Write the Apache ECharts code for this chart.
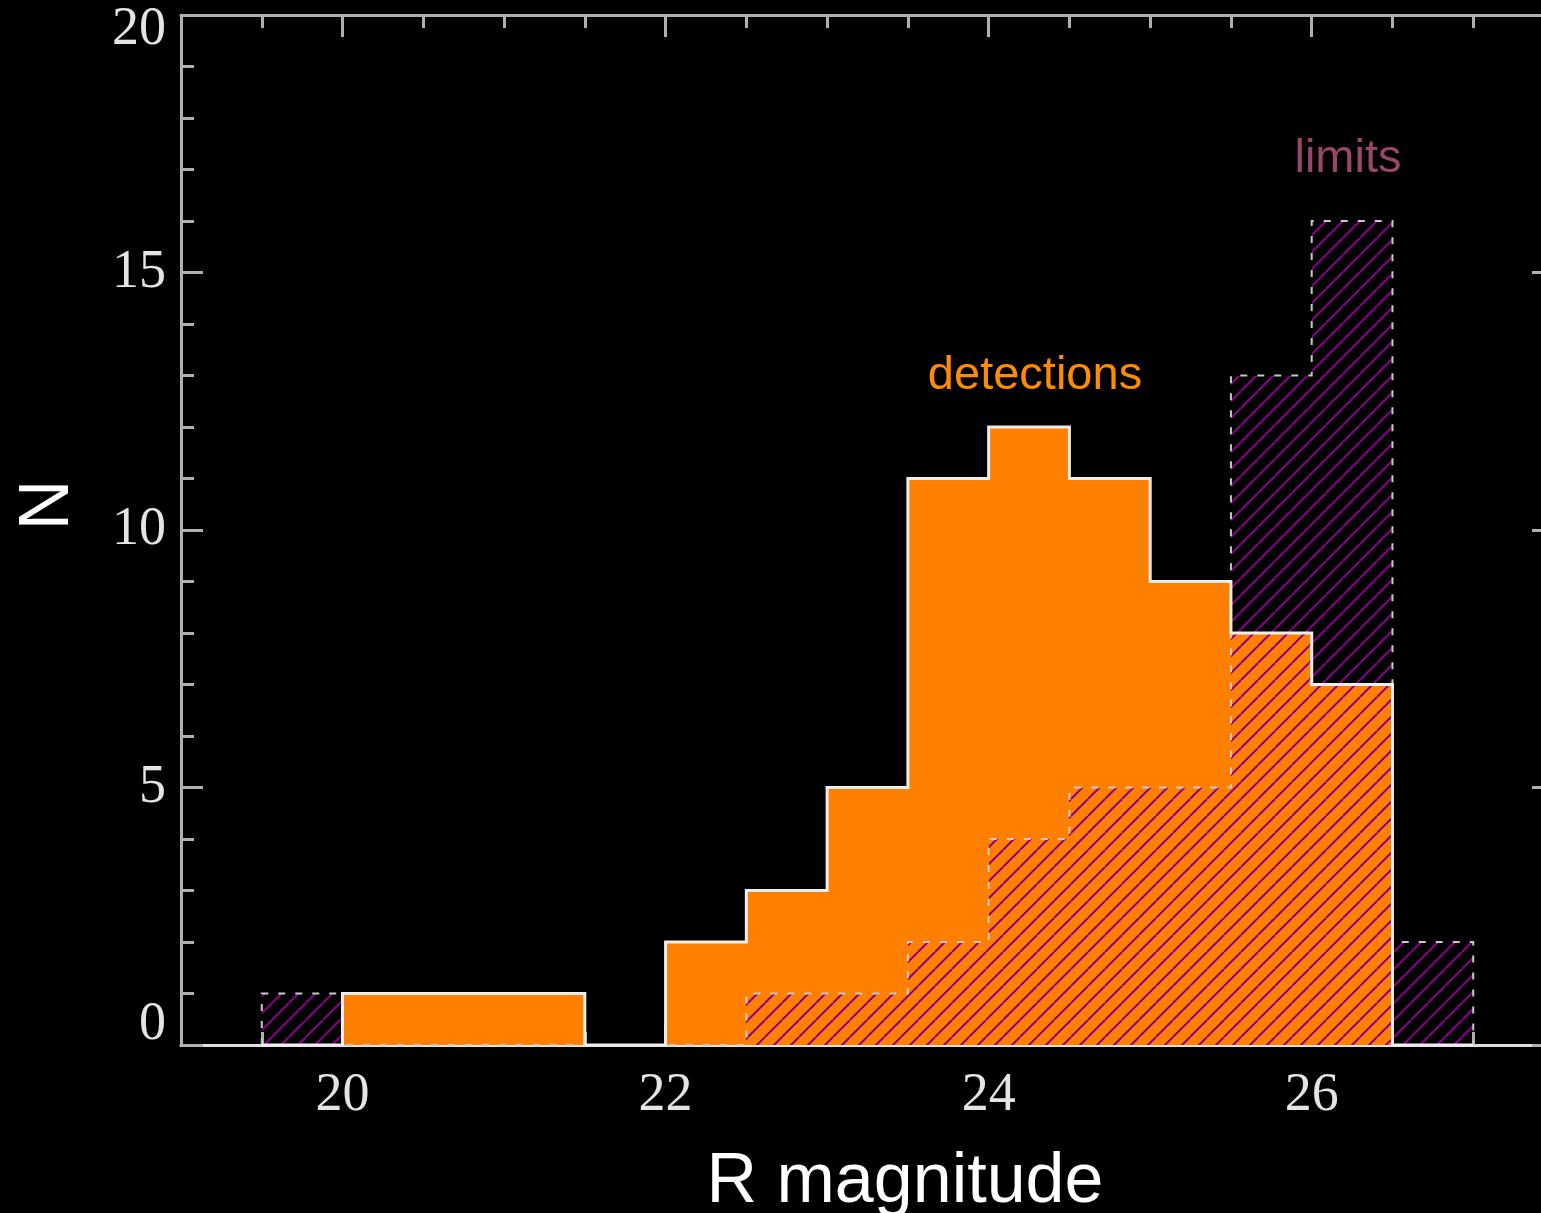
<!DOCTYPE html>
<html>
<head>
<meta charset="utf-8">
<script src="https://cdn.jsdelivr.net/npm/echarts@6/dist/echarts.min.js"></script>
<style>
  html, body { margin: 0; padding: 0; background: #000; }
  #chart { width: 1541px; height: 1213px; }
</style>
</head>
<body>
<div id="chart"></div>
<script>
// Histogram bins: lower edge of each R-magnitude bin, bin width 0.5 mag
const binLow = [19.5, 20.0, 20.5, 21.0, 21.5, 22.0, 22.5, 23.0, 23.5, 24.0, 24.5, 25.0, 25.5, 26.0, 26.5];
const binWidth = 0.5;

// Number of objects per bin
const detections = [0, 1, 1, 1, 0, 2, 3, 5, 11, 12, 11, 9, 8, 7, 0];
const limits     = [1, 0, 0, 0, 0, 0, 1, 1, 2, 4, 5, 5, 13, 16, 2];

// Labelled ticks
const xMajorTicks = [20, 22, 24, 26];
const yMajorTicks = [0, 5, 10, 15, 20];

// Bars as [low edge, high edge, count]
function toBins(counts) {
  return binLow.map((lo, i) => [lo, lo + binWidth, counts[i]]);
}
// Outline as a step line through the bin edges
function toSteps(counts) {
  const pts = [[binLow[0], 0]];
  binLow.forEach((lo, i) => pts.push([lo, counts[i]]));
  pts.push([binLow[binLow.length - 1] + binWidth, 0]);
  return pts;
}

// Diagonal purple hatching tile
const tile = 17;
const hatchCanvas = document.createElement('canvas');
hatchCanvas.width = tile; hatchCanvas.height = tile;
(function () {
  const g = hatchCanvas.getContext('2d');
  g.strokeStyle = '#8b008b';
  g.lineWidth = 2;
  [-1, 0, 1].forEach(k => {
    g.beginPath();
    g.moveTo(k * tile, tile);
    g.lineTo(k * tile + tile, 0);
    g.stroke();
  });
})();
const hatchFill = { type: 'pattern', image: hatchCanvas, repeat: 'repeat' };

function binRenderer(fill) {
  return function (params, api) {
    const n = api.value(2);
    if (!n) return null;
    const a = api.coord([api.value(0), n]);
    const b = api.coord([api.value(1), 0]);
    const x0 = Math.round(a[0]), x1 = Math.round(b[0]);
    const y0 = Math.round(a[1]), y1 = Math.round(b[1]);
    return {
      type: 'rect',
      shape: { x: x0, y: y0, width: x1 - x0, height: y1 - y0 },
      style: { fill: fill }
    };
  };
}

const axisGray = '#b0b0b0';
const tickFont = { fontFamily: 'Liberation Serif', fontSize: 54, color: '#e4e4e4' };
const lineSt = { color: axisGray, width: 3 };

function xAxisDef(position, major, withLine, withLabels) {
  const ax = {
    type: 'value', position: position, min: 19, max: 27.5,
    splitLine: { show: false },
    axisLine: {
      show: withLine, onZero: false,
      lineStyle: { color: position === 'bottom' ? '#e0e0e0' : axisGray, width: 3 }
    },
    axisTick: { show: true, inside: true, length: major ? 22 : 13, lineStyle: lineSt },
    axisLabel: { show: false }
  };
  if (major) {
    ax.axisTick.customValues = xMajorTicks;
    if (withLabels) {
      ax.axisLabel = Object.assign({ show: true, customValues: xMajorTicks, margin: 24 }, tickFont);
    }
  } else {
    ax.interval = 0.5;
  }
  return ax;
}

function yAxisDef(position, major, withLine, withLabels) {
  const ax = {
    type: 'value', position: position, min: 0, max: 20,
    interval: major ? 5 : 1,
    splitLine: { show: false },
    axisLine: { show: withLine, onZero: false, lineStyle: lineSt },
    axisTick: { show: true, inside: true, length: major ? 22 : 13, lineStyle: lineSt },
    axisLabel: { show: false }
  };
  if (withLabels) {
    ax.axisLabel = Object.assign({
      show: true, margin: 15,
      formatter: v => v === yMajorTicks[0] ? '{lo|' + v + '}'
        : v === yMajorTicks[yMajorTicks.length - 1] ? '{hi|' + v + '}' : String(v),
      rich: {
        lo: Object.assign({ padding: [0, 0, 40, 0] }, tickFont),
        hi: Object.assign({ padding: [30, 0, 0, 0] }, tickFont)
      }
    }, tickFont);
  }
  return ax;
}

const chart = echarts.init(document.getElementById('chart'), null, { renderer: 'canvas' });

chart.setOption({
  backgroundColor: '#000',
  animation: false,
  grid: { left: 181, top: 15, width: 1373, height: 1030, containLabel: false, outerBoundsMode: 'none' },
  xAxis: [
    xAxisDef('bottom', false, true, false),
    xAxisDef('bottom', true, false, true),
    xAxisDef('top', false, true, false),
    xAxisDef('top', true, false, false)
  ],
  yAxis: [
    yAxisDef('left', false, true, false),
    yAxisDef('left', true, false, true),
    yAxisDef('right', false, true, false),
    yAxisDef('right', true, false, false)
  ],
  series: [
    {
      name: 'detections', type: 'custom', z: 2,
      data: toBins(detections),
      encode: { x: [0, 1], y: 2 },
      renderItem: binRenderer('#ff8000')
    },
    {
      name: 'limits', type: 'custom', z: 3,
      data: toBins(limits),
      encode: { x: [0, 1], y: 2 },
      renderItem: binRenderer(hatchFill)
    },
    {
      name: 'limits outline', type: 'line', z: 4,
      step: 'end', symbol: 'none',
      data: toSteps(limits),
      lineStyle: { color: '#c8c8c8', width: 2, type: [7, 10], join: 'miter' }
    },
    {
      name: 'detections outline', type: 'line', z: 5,
      step: 'end', symbol: 'none',
      data: toSteps(detections),
      lineStyle: { color: '#eeeeee', width: 3, join: 'miter' }
    }
  ],
  graphic: [
    {
      type: 'text', x: 905, y: 1183,
      style: { text: 'R magnitude', fontFamily: 'Liberation Sans', fontSize: 70, fill: '#ffffff', align: 'center', verticalAlign: 'middle' }
    },
    {
      type: 'text', x: 49, y: 505, rotation: Math.PI / 2,
      style: { text: 'N', fontFamily: 'Liberation Sans', fontSize: 70, fill: '#ffffff', align: 'center', verticalAlign: 'middle' }
    },
    {
      type: 'text', x: 1035, y: 376,
      style: { text: 'detections', fontFamily: 'Liberation Sans', fontSize: 47, fill: '#ff8c00', align: 'center', verticalAlign: 'middle' }
    },
    {
      type: 'text', x: 1348, y: 159,
      style: { text: 'limits', fontFamily: 'Liberation Sans', fontSize: 47, fill: '#98466a', align: 'center', verticalAlign: 'middle' }
    }
  ]
});
</script>
</body>
</html>
